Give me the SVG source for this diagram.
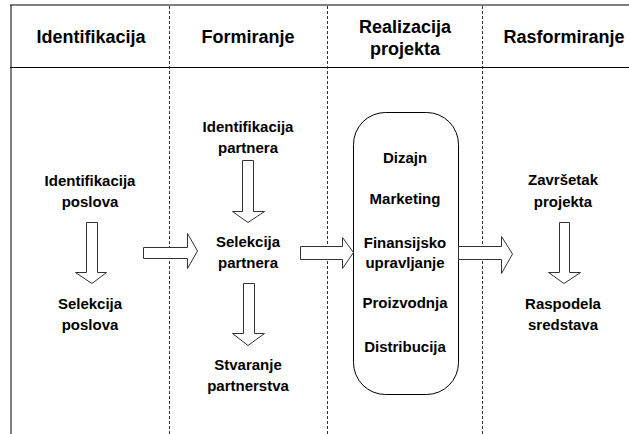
<svg xmlns="http://www.w3.org/2000/svg" width="629" height="434" viewBox="0 0 629 434">
<style>
text{font-family:"Liberation Sans",Arial,sans-serif;font-weight:bold;fill:#000;text-anchor:middle}
.h{font-size:18px}
.b{font-size:15px}
.dash{stroke:#333;stroke-width:1;stroke-dasharray:3,2;fill:none}
.arr{fill:#fff;stroke:#333;stroke-width:1}
</style>
<rect width="629" height="434" fill="#fff"/>
<g id="frame">
<line x1="10" y1="5" x2="629" y2="5" stroke="#808080" stroke-width="2"/>
<line x1="11" y1="5" x2="11" y2="434" stroke="#000" stroke-width="1"/>
<line x1="10" y1="67.5" x2="629" y2="67.5" stroke="#000" stroke-width="1"/>
<line class="dash" x1="169.5" y1="6" x2="169.5" y2="434"/>
<line class="dash" x1="327.5" y1="6" x2="327.5" y2="434"/>
<line class="dash" x1="482.5" y1="6" x2="482.5" y2="434"/>
</g>
<g id="headers">
<text class="h" x="91" y="43">Identifikacija</text>
<text class="h" x="248" y="43">Formiranje</text>
<text class="h" x="405" y="33">Realizacija</text>
<text class="h" x="405" y="55">projekta</text>
<text class="h" x="564" y="43">Rasformiranje</text>
</g>
<g id="n-identifikacija-poslova"><text class="b" x="90" y="186">Identifikacija</text><text class="b" x="90" y="207">poslova</text></g>
<g id="n-selekcija-poslova"><text class="b" x="90" y="309">Selekcija</text><text class="b" x="90" y="330">poslova</text></g>
<g id="n-identifikacija-partnera"><text class="b" x="248" y="132">Identifikacija</text><text class="b" x="248" y="153">partnera</text></g>
<g id="n-selekcija-partnera"><text class="b" x="248" y="247">Selekcija</text><text class="b" x="248" y="268">partnera</text></g>
<g id="n-stvaranje-partnerstva"><text class="b" x="248" y="370">Stvaranje</text><text class="b" x="248" y="391">partnerstva</text></g>
<g id="n-realizacija">
<rect x="353.5" y="112.5" width="105" height="282" rx="32" ry="32" fill="#fff" stroke="#000" stroke-width="1"/>
<text class="b" x="405" y="163">Dizajn</text>
<text class="b" x="405" y="204">Marketing</text>
<text class="b" x="405" y="248">Finansijsko</text>
<text class="b" x="405" y="268">upravljanje</text>
<text class="b" x="405" y="308">Proizvodnja</text>
<text class="b" x="405" y="352">Distribucija</text>
</g>
<g id="n-zavrsetak-projekta"><text class="b" x="563" y="185">Završetak</text><text class="b" x="563" y="207">projekta</text></g>
<g id="n-raspodela-sredstava"><text class="b" x="563" y="309">Raspodela</text><text class="b" x="563" y="330">sredstava</text></g>
<g id="connectors">
<polygon class="arr" points="86.5,222.5 97.5,222.5 97.5,272.5 106.5,272.5 92,283.5 75.5,272.5 86.5,272.5"/>
<polygon class="arr" points="242.5,160.5 253.5,160.5 253.5,211.5 264.5,211.5 248,222.5 232.5,211.5 242.5,211.5"/>
<polygon class="arr" points="243.5,283.5 254.5,283.5 254.5,333.5 264.5,333.5 248,345.5 232.5,333.5 243.5,333.5"/>
<polygon class="arr" points="559.5,222.5 569.5,222.5 569.5,272.5 580.5,272.5 564,283.5 548.5,272.5 559.5,272.5"/>
<polygon class="arr" points="143.5,247.5 187.5,247.5 187.5,233.5 197.5,251 187.5,268.5 187.5,258.5 143.5,258.5"/>
<polygon class="arr" points="300.5,246.5 342.5,246.5 342.5,237.5 353.5,252.5 342.5,268.5 342.5,259.5 300.5,259.5"/>
<polygon class="arr" points="458.5,246.5 501.5,246.5 501.5,236.5 512.5,254 501.5,273.5 501.5,259.5 458.5,259.5"/>
</g>
</svg>
